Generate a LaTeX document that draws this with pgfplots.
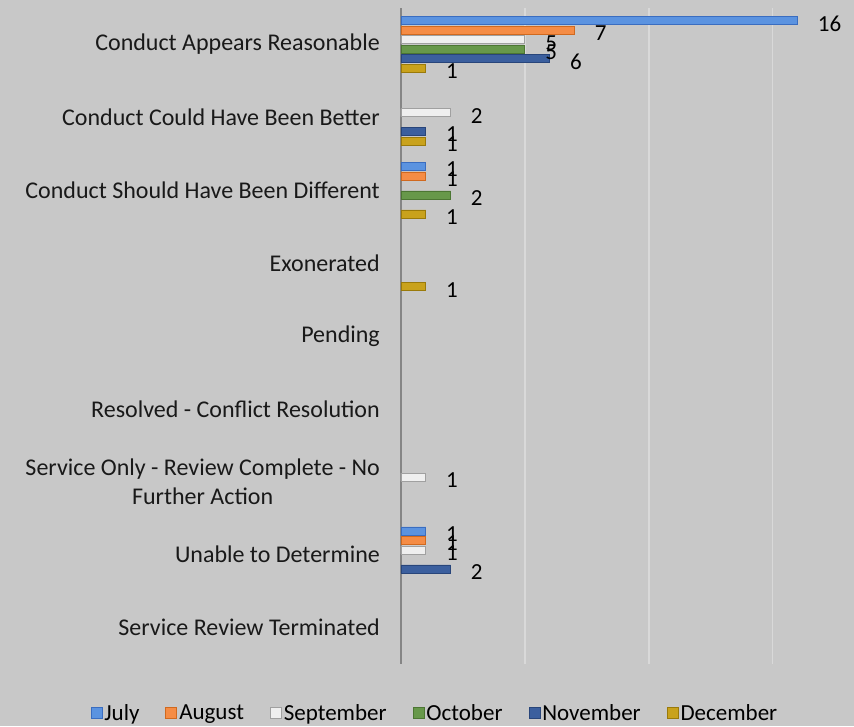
\documentclass[border=0pt]{standalone}
\usepackage{pgfplots}
\pgfplotsset{compat=1.18}
\usepackage{fontspec}
\setmainfont{Carlito}
\definecolor{bg}{HTML}{C8C8C8}
\definecolor{gridc}{HTML}{D9D9D9}
\definecolor{axc}{HTML}{858585}
\definecolor{julF}{HTML}{5B93E0}\definecolor{julD}{HTML}{3A6DC0}
\definecolor{augF}{HTML}{F58C45}\definecolor{augD}{HTML}{D0691F}
\definecolor{sepF}{HTML}{EFEFEF}\definecolor{sepD}{HTML}{A0A0A0}
\definecolor{octF}{HTML}{67984A}\definecolor{octD}{HTML}{4C7633}
\definecolor{novF}{HTML}{3B5F9E}\definecolor{novD}{HTML}{28457A}
\definecolor{decF}{HTML}{C9A21C}\definecolor{decD}{HTML}{9A7A0A}
\begin{document}
\begin{tikzpicture}
\fill[bg] (-401pt,-62pt) rectangle (453pt,664pt);
\begin{axis}[
  at={(0pt,0pt)}, anchor=south west,
  scale only axis, width=446pt, height=656pt,
  xbar, bar width=8pt,
  xmin=0, xmax=18, ymin=-0.5, ymax=8.5,
  y dir=reverse,
  axis x line*=bottom, axis y line*=left,
  x axis line style={draw=none},
  y axis line style={draw=axc, line width=2pt, -},
  xtick={5,10,15}, xticklabels={},
  xmajorgrids, major grid style={draw=gridc, line width=1.5pt},
  major tick length=0pt,
  ytick={0,...,8},
  yticklabels={Conduct Appears Reasonable, Conduct Could Have Been Better, Conduct Should Have Been Different, Exonerated, Pending, Resolved - Conflict Resolution, {Service Only - Review Complete - No\\Further Action}, Unable to Determine, Service Review Terminated},
  yticklabel style={align=center, inner sep=0pt, xshift=-21pt, font=\fontsize{24}{29}\selectfont, text=black!90},
  point meta=x,
  /pgf/number format/assume math mode=true,
  nodes near coords,
  nodes near coords style={anchor=west, inner sep=0pt, xshift=20pt, yshift=-3pt, font=\fontsize{23}{25}\selectfont, text=black},
  legend style={at={(0.076,-0.0747)}, anchor=center, draw=none, fill=none,
    font=\fontsize{23}{25}\selectfont, legend columns=-1,
    /tikz/every odd column/.append style={column sep=0pt},
    /tikz/every even column/.append style={column sep=24pt}},
  legend image code/.code={\draw[#1, line width=0.8pt] (0pt,-5.5pt) rectangle (11pt,5.5pt);},
]
\addplot[fill=julF, draw=julD, line width=0.8pt, bar shift=23.75pt] coordinates {(16,0) (1,2) (1,7)};
\addplot[fill=augF, draw=augD, line width=0.8pt, bar shift=14.25pt] coordinates {(7,0) (1,2) (1,7)};
\addplot[fill=sepF, draw=sepD, line width=0.8pt, bar shift=4.75pt] coordinates {(5,0) (2,1) (1,6) (1,7)};
\addplot[fill=octF, draw=octD, line width=0.8pt, bar shift=-4.75pt] coordinates {(5,0) (2,2)};
\addplot[fill=novF, draw=novD, line width=0.8pt, bar shift=-14.25pt] coordinates {(6,0) (1,1) (2,7)};
\addplot[fill=decF, draw=decD, line width=0.8pt, bar shift=-23.75pt] coordinates {(1,0) (1,1) (1,2) (1,3)};
\legend{July, August, September, October, November, December}
\end{axis}
\end{tikzpicture}
\end{document}
